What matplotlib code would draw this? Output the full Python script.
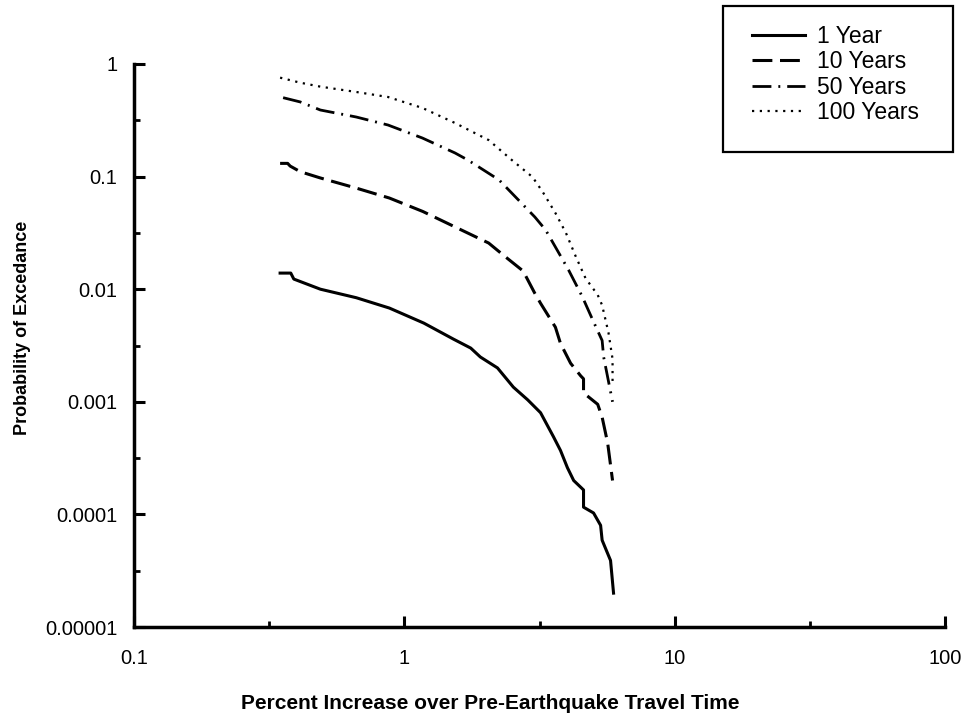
import matplotlib
matplotlib.use("Agg")
import matplotlib.pyplot as plt
from matplotlib.patches import Rectangle
from matplotlib.ticker import NullFormatter

plt.rcParams['font.family'] = ['Liberation Sans', 'DejaVu Sans']

# exceedance curves
pct_1yr = [0.347, 0.38, 0.39, 0.489, 0.664, 0.88, 1.18, 1.52, 1.76, 1.91, 2.21, 2.53, 2.86, 3.19,
           3.56, 3.78, 4.01, 4.23, 4.60, 4.60, 5.01, 5.32, 5.39, 5.79, 5.94]
p_1yr = [0.0139, 0.0139, 0.0123, 0.0100, 0.0084, 0.0068, 0.0050, 0.0036, 0.0030, 0.0025, 0.0020,
         0.00135, 0.00104, 0.00080, 0.00049, 0.00037, 0.00026, 0.00020, 0.000165, 0.000116,
         0.000103, 8.0e-5, 5.9e-5, 3.9e-5, 2.0e-5]

pct_10yr = [0.347, 0.37, 0.378, 0.412, 0.489, 0.664, 0.88, 1.17, 1.54, 2.05, 2.37, 2.75, 3.03, 3.19,
            3.62, 3.78, 4.12, 4.49, 4.60, 4.60, 5.19, 5.39, 5.65, 5.89]
p_10yr = [0.131, 0.131, 0.124, 0.1105, 0.0972, 0.079, 0.0645, 0.049, 0.0357, 0.0257, 0.0193, 0.0145,
          0.0093, 0.0075, 0.0046, 0.0033, 0.0022, 0.0017, 0.0016, 0.0012, 0.00095, 0.00073,
          0.00043, 0.00020]

pct_50yr = [0.356, 0.412, 0.489, 0.664, 0.87, 1.166, 1.54, 1.72, 2.24, 2.64, 3.04, 3.33, 3.62, 4.05,
            4.55, 4.98, 5.39, 5.46, 5.89]
p_50yr = [0.502, 0.460, 0.390, 0.338, 0.287, 0.220, 0.162, 0.140, 0.0934, 0.0621, 0.0437, 0.0336,
          0.0237, 0.0148, 0.0086, 0.0053, 0.0035, 0.0025, 0.0010]

pct_100yr = [0.347, 0.412, 0.489, 0.664, 0.87, 1.166, 1.54, 2.05, 2.50, 2.98, 3.25, 3.62, 3.96, 4.31,
             4.68, 5.19, 5.39, 5.69, 5.89, 5.89]
p_100yr = [0.756, 0.682, 0.629, 0.564, 0.509, 0.407, 0.299, 0.211, 0.140, 0.099, 0.073, 0.0475,
           0.0316, 0.0194, 0.0125, 0.0089, 0.0072, 0.0041, 0.0024, 0.0014]

x_ticks = [0.1, 1, 10, 100]
x_labels = ['0.1', '1', '10', '100']
y_ticks = [1e-5, 1e-4, 1e-3, 1e-2, 1e-1, 1]
y_labels = ['0.00001', '0.0001', '0.001', '0.01', '0.1', '1']

fig = plt.figure(figsize=(9.65, 7.18), dpi=100)
ax = fig.add_axes([0.1389, 0.1267, 0.8404, 0.7842])

ax.plot(pct_1yr, p_1yr, color='black', lw=2.2, linestyle='-', label='1 Year')
ax.plot(pct_10yr, p_10yr, color='black', lw=2.2, linestyle=(0, (6.5, 2.5)), label='10 Years')
ax.plot(pct_50yr, p_50yr, color='black', lw=2.0, linestyle=(0, (6.8, 2.5, 0.7, 2.5)), label='50 Years')
ax.plot(pct_100yr, p_100yr, color='black', lw=1.6, linestyle=(0, (1, 2.5)), label='100 Years')

ax.set_xscale('log')
ax.set_yscale('log')
ax.set_xlim(0.1, 100)
ax.set_ylim(1e-5, 1)

ax.set_xticks(x_ticks, x_labels)
ax.set_yticks(y_ticks, y_labels)
# half-decade minor ticks only
ax.set_xticks([10 ** -0.5, 10 ** 0.5, 10 ** 1.5], minor=True)
ax.set_yticks([10 ** (-k - 0.5) for k in range(5)], minor=True)
ax.xaxis.set_minor_formatter(NullFormatter())
ax.yaxis.set_minor_formatter(NullFormatter())

ax.tick_params(which='major', direction='in', length=8, width=2.2, labelsize=14.5)
ax.tick_params(which='minor', direction='in', length=4.5, width=2.0)
ax.tick_params(axis='x', which='major', pad=16)
ax.tick_params(axis='y', which='major', pad=12)

for side in ['top', 'right']:
    ax.spines[side].set_visible(False)
for side in ['left', 'bottom']:
    ax.spines[side].set_linewidth(2.5)

ax.set_xlabel('Percent Increase over Pre-Earthquake Travel Time', fontsize=15,
              fontweight='bold', va='center')
ax.xaxis.set_label_coords(0.439, -0.135)
ax.set_ylabel('Probability of Excedance', fontsize=13, fontweight='bold', va='center')
ax.yaxis.set_label_coords(-0.138, 0.532)

# legend entries without frame, box drawn separately
leg = fig.legend(loc='upper left', bbox_to_anchor=(752 / 965, 1 - 25 / 718), fontsize=16.5,
                 frameon=False, borderpad=0, borderaxespad=0, labelspacing=0.1,
                 handlelength=2.3, handletextpad=0.55)
box = Rectangle((723 / 965, 1 - 152 / 718), 230 / 965, 146 / 718, transform=fig.transFigure,
                fill=False, edgecolor='black', linewidth=1.6)
fig.patches.append(box)

fig.savefig('out.png', dpi=100)
